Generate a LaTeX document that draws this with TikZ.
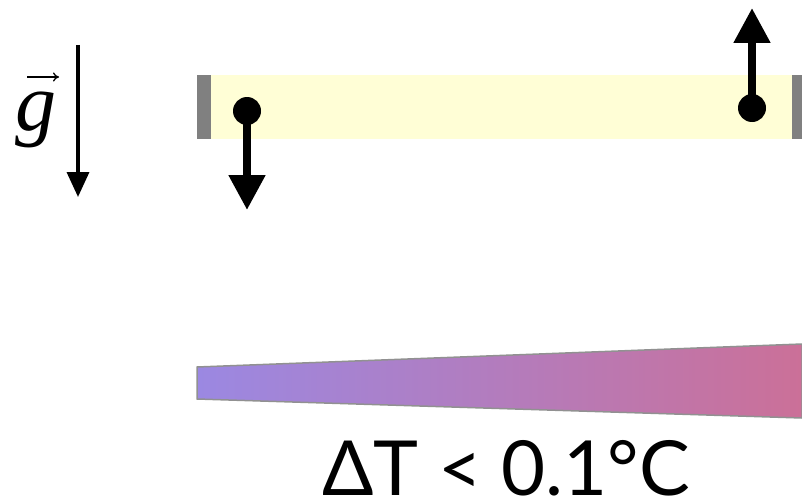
\documentclass[tikz,border=0pt]{standalone}
\usepackage{fontspec}
\setmainfont{Lato}
\newfontfamily\gfont{Liberation Serif}
\usetikzlibrary{arrows.meta}
\definecolor{barfill}{RGB}{255,254,214}
\definecolor{capgray}{RGB}{128,128,128}
\definecolor{wedgeleft}{RGB}{155,136,226}
\definecolor{wedgeright}{RGB}{203,112,152}
\definecolor{wedgeedge}{RGB}{145,145,145}
\tikzset{
  dotnode/.style={circle,fill=black,inner sep=0pt,minimum size=28pt},
  particlearrow/.style={line width=8pt,-{Triangle[length=35pt,width=35pt]}},
  gravarrow/.style={line width=3.5pt,-{Triangle[length=25pt,width=22pt]}},
  vecarrow/.style={line width=1.3pt,-{To[length=6pt,width=9pt]}},
}
\begin{document}
\begin{tikzpicture}[x=1pt,y=-1pt]
\useasboundingbox (0,0) rectangle (802,503);
% bar
\fill[barfill] (211,75) rectangle (792,139);
\fill[capgray] (197,75) rectangle (211,139);
\fill[capgray] (792,75) rectangle (802,139);
% particles
\node[dotnode] (p1) at (247,111) {};
\coordinate (t1) at (247,210);
\draw[particlearrow] (p1.center) -- (t1);
\node[dotnode] (p2) at (752,108) {};
\coordinate (t2) at (752,8);
\draw[particlearrow] (p2.center) -- (t2);
% gravity
\coordinate (ga) at (78,45);
\coordinate (gb) at (78,197);
\draw[gravarrow] (ga) -- (gb);
\node[font=\gfont\itshape\fontsize{82}{86}\selectfont,anchor=base,inner sep=0pt] (g) at (36,130) {g};
\coordinate (va) at (27,77);
\coordinate (vb) at (59,77);
\draw[vecarrow] (va) -- (vb);
% wedge
\shade[left color=wedgeleft,right color=wedgeright,draw=wedgeedge,line width=1.5pt]
  (197,367) -- (802,344) -- (802,418) -- (197,399) -- cycle;
\node[font=\fontsize{76}{80}\selectfont,anchor=base,inner sep=0pt] (dt) at (506,495) {ΔT < 0.1°C};
\end{tikzpicture}
\end{document}
